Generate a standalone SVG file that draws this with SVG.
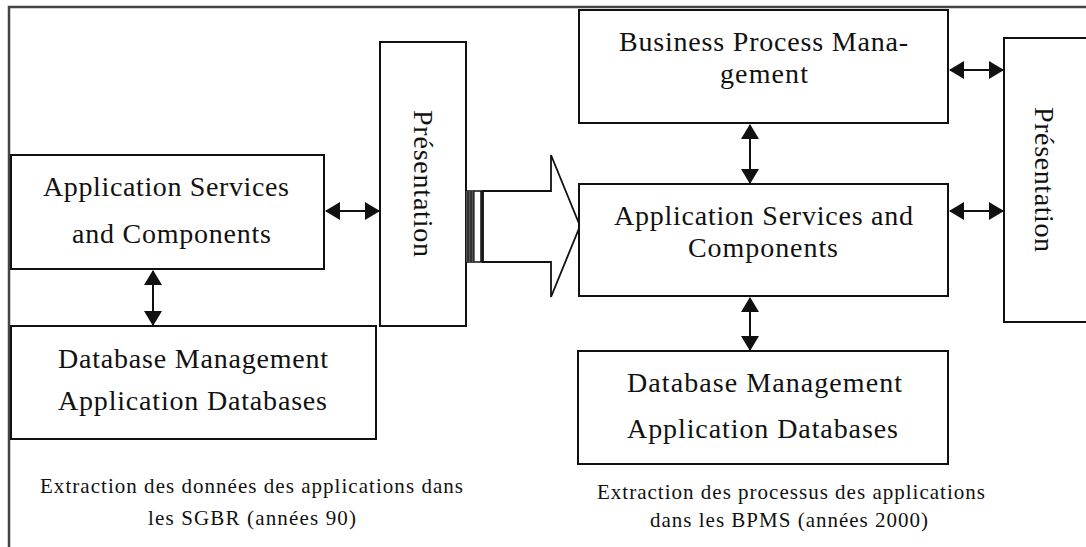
<svg xmlns="http://www.w3.org/2000/svg" width="1086" height="547" viewBox="0 0 1086 547">
<style>
.box{fill:#fff;stroke:#111;stroke-width:2}
.t{font-family:"Liberation Serif","Times New Roman",serif;font-size:28px;fill:#111;text-anchor:middle}
.c{font-family:"Liberation Serif","Times New Roman",serif;font-size:21px;fill:#111;text-anchor:middle}
.ln{stroke:#111;stroke-width:2;fill:none}
</style>
<defs>
<marker id="ah" viewBox="0 0 15 18" refX="14" refY="9" markerWidth="15" markerHeight="18" markerUnits="userSpaceOnUse" orient="auto-start-reverse">
<path d="M0,0 L15,9 L0,18 Z" fill="#111"/>
</marker>
</defs>
<rect width="1086" height="547" fill="#fff"/>
<g id="frame">
<path d="M9,547 L9,7 L1086,7" fill="none" stroke="#444" stroke-width="2.5"/>
</g>
<g id="left-app">
<rect class="box" x="11" y="155" width="313" height="114"/>
<text class="t" x="166" y="196" textLength="246" lengthAdjust="spacing">Application Services</text>
<text class="t" x="171.5" y="243" textLength="199" lengthAdjust="spacing">and Components</text>
</g>
<g id="left-db">
<rect class="box" x="11" y="326" width="365" height="113"/>
<text class="t" x="193" y="368" textLength="270" lengthAdjust="spacing">Database Management</text>
<text class="t" x="192.5" y="410" textLength="269" lengthAdjust="spacing">Application Databases</text>
</g>
<g id="left-pres">
<rect class="box" x="380" y="42" width="86" height="284"/>
<text class="t" transform="translate(414,183.5) rotate(90)" x="0" y="0" textLength="147" lengthAdjust="spacing">Présentation</text>
</g>
<g id="left-caption">
<text class="c" x="251.5" y="493" textLength="423" lengthAdjust="spacing">Extraction des données des applications dans</text>
<text class="c" x="252" y="525" textLength="208" lengthAdjust="spacing">les SGBR (années 90)</text>
</g>
<g id="big-arrow">
<polygon points="483,191 551,191 551,155 580,226 551,297 551,262 483,262" fill="#fff" stroke="#111" stroke-width="1.8"/>
<rect x="466" y="191" width="16" height="71" fill="#fff" stroke="#111" stroke-width="1.5"/>
<rect x="466" y="191" width="8" height="71" fill="#555"/>
<line x1="468" y1="191" x2="468" y2="262" stroke="#111" stroke-width="1"/>
<line x1="471" y1="191" x2="471" y2="262" stroke="#111" stroke-width="1"/>
<line x1="474" y1="191" x2="474" y2="262" stroke="#111" stroke-width="1.2"/>
<line x1="481" y1="191" x2="481" y2="262" stroke="#111" stroke-width="1.5"/>
</g>
<g id="bpm">
<rect class="box" x="579" y="10" width="369" height="113"/>
<text class="t" x="763.5" y="51" textLength="289" lengthAdjust="spacing">Business Process Mana-</text>
<text class="t" x="764" y="83" textLength="88" lengthAdjust="spacing">gement</text>
</g>
<g id="right-app">
<rect class="box" x="579" y="184" width="369" height="112"/>
<text class="t" x="763.5" y="225" textLength="299" lengthAdjust="spacing">Application Services and</text>
<text class="t" x="763" y="257" textLength="150" lengthAdjust="spacing">Components</text>
</g>
<g id="right-db">
<rect class="box" x="578" y="351" width="370" height="113"/>
<text class="t" x="764.5" y="392" textLength="275" lengthAdjust="spacing">Database Management</text>
<text class="t" x="762.5" y="438" textLength="271" lengthAdjust="spacing">Application Databases</text>
</g>
<g id="right-pres">
<rect class="box" x="1004" y="38" width="90" height="284"/>
<text class="t" transform="translate(1035,179.5) rotate(90)" x="0" y="0" textLength="145" lengthAdjust="spacing">Présentation</text>
</g>
<g id="right-caption">
<text class="c" x="791" y="499" textLength="388" lengthAdjust="spacing">Extraction des processus des applications</text>
<text class="c" x="789" y="527" textLength="278" lengthAdjust="spacing">dans les BPMS (années 2000)</text>
</g>
<g id="connectors">
<line class="ln" x1="326" y1="211" x2="379" y2="211" marker-start="url(#ah)" marker-end="url(#ah)"/>
<line class="ln" x1="153" y1="271" x2="153" y2="325" marker-start="url(#ah)" marker-end="url(#ah)"/>
<line class="ln" x1="750" y1="125" x2="750" y2="183" marker-start="url(#ah)" marker-end="url(#ah)"/>
<line class="ln" x1="750" y1="298" x2="750" y2="350" marker-start="url(#ah)" marker-end="url(#ah)"/>
<line class="ln" x1="950" y1="70" x2="1003" y2="70" marker-start="url(#ah)" marker-end="url(#ah)"/>
<line class="ln" x1="950" y1="211" x2="1003" y2="211" marker-start="url(#ah)" marker-end="url(#ah)"/>
</g>
</svg>
